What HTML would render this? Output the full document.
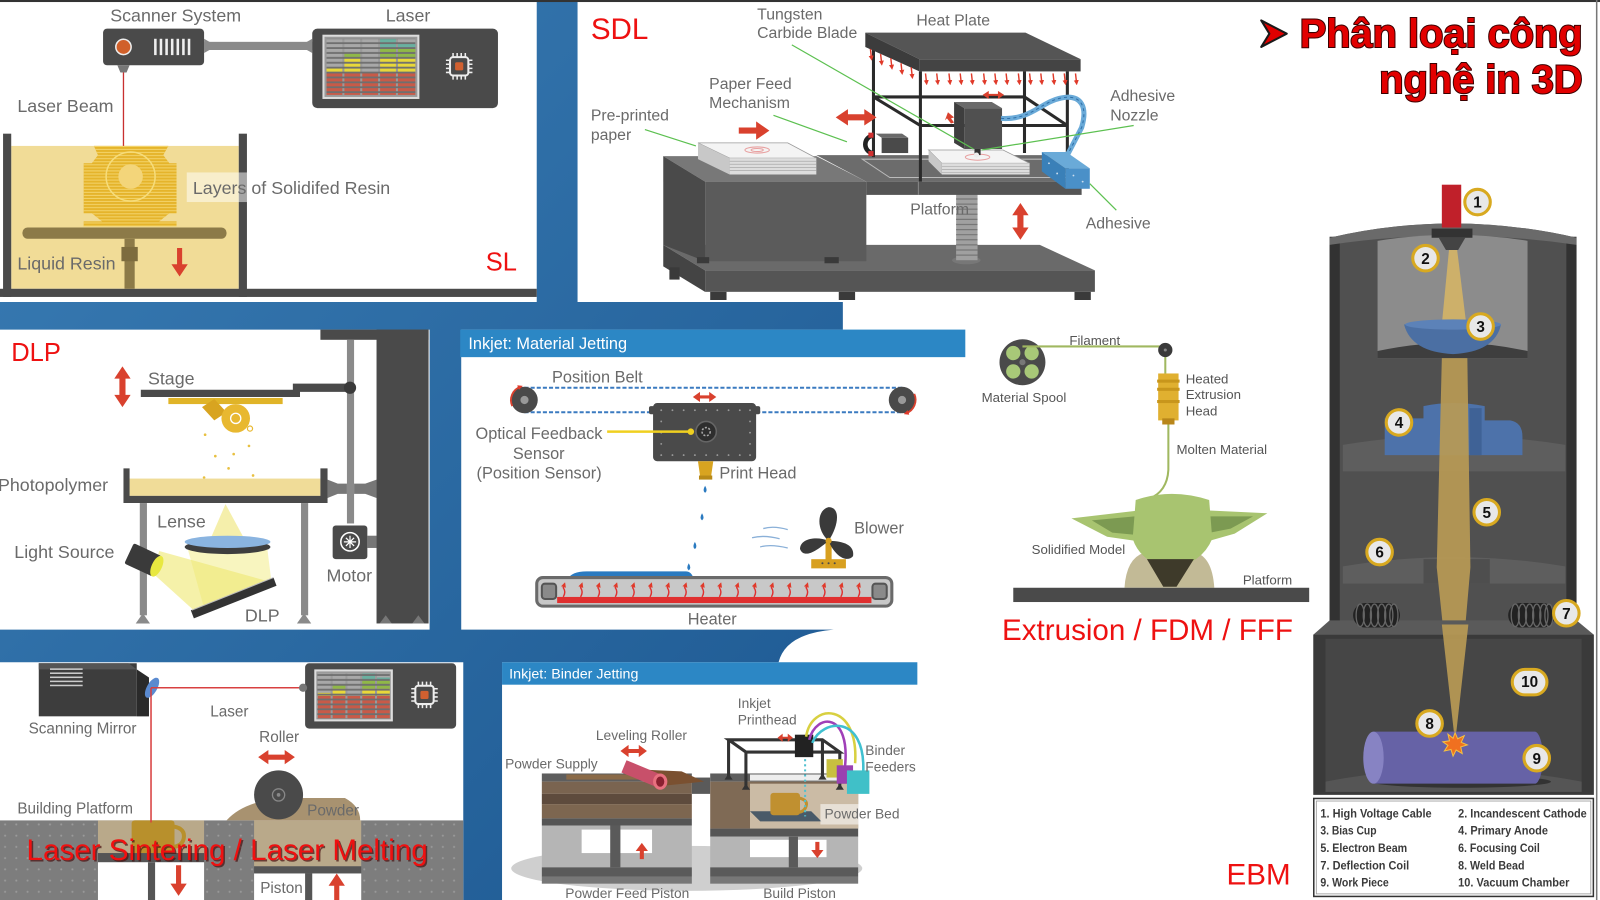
<!DOCTYPE html>
<html><head><meta charset="utf-8"><style>
html,body{margin:0;padding:0;background:#fff;overflow:hidden;}
svg{display:block;}
text{font-family:"Liberation Sans",Arial,sans-serif;}
</style></head><body>
<svg width="1600" height="900" viewBox="0 0 1568 882" preserveAspectRatio="none" xmlns="http://www.w3.org/2000/svg">
<defs>
<linearGradient id="bg" x1="0" y1="0" x2="1" y2="1"><stop offset="0" stop-color="#3a7db5"/><stop offset="1" stop-color="#1d5891"/></linearGradient>
<pattern id="scan" width="6" height="4.8" patternUnits="userSpaceOnUse"><rect y="3" width="6" height="1.8" fill="#6f6f6f"/></pattern>
<pattern id="layers" width="6" height="3" patternUnits="userSpaceOnUse"><rect y="2" width="6" height="1" fill="#f3d36a"/></pattern>
<pattern id="dots" width="11" height="11" patternUnits="userSpaceOnUse"><circle cx="5" cy="5" r="1" fill="#9a9a9a"/></pattern>
<marker id="ah" markerWidth="5" markerHeight="5" refX="2.5" refY="2.5" orient="auto" markerUnits="userSpaceOnUse"><path d="M0,0 L5,2.5 L0,5 Z" fill="#e03a2a"/></marker>
</defs>
<rect width="1568" height="882" fill="#fff"/>
<!-- blue background -->
<path d="M0,296 L526,296 L526,2 L566,2 L566,296 L826,296 L826,323 L452,323 L452,617 L817,617 Q770,621 763,649 L492,649 L492,882 L454,882 L454,649 L0,649 L0,617 L421,617 L421,323 L0,323 Z" fill="url(#bg)"/>
<rect x="0" y="0" width="1568" height="2" fill="#333"/>
<rect x="1564" y="0" width="1.5" height="882" fill="#777"/>

<!-- ===== SL ===== -->
<rect x="11" y="143" width="223" height="140" fill="#f1dc97"/>
<rect x="3" y="131" width="8" height="160" fill="#4a4a4a"/>
<rect x="234" y="131" width="8" height="160" fill="#4a4a4a"/>
<rect x="0" y="283" width="526" height="8" fill="#4a4a4a"/>
<polygon points="92,143 165,143 160,152 166,160 173,160 173,209 166,209 156,217 173,217 173,222 82,222 82,217 100,217 90,209 82,209 82,160 90,160 96,152" fill="#e5b42b"/>
<polygon points="92,143 165,143 160,152 166,160 173,160 173,209 166,209 156,217 173,217 173,222 82,222 82,217 100,217 90,209 82,209 82,160 90,160 96,152" fill="url(#layers)"/>
<circle cx="128" cy="173" r="24" fill="none" stroke="#f6dc7a" stroke-width="1.5"/>
<circle cx="128" cy="173" r="12" fill="#f3d57a"/>
<rect x="22" y="223" width="200" height="11" rx="5" fill="#8c7a48"/>
<rect x="122" y="234" width="10" height="49" fill="#8c7a48"/>
<rect x="119" y="242" width="16" height="14" fill="#7d6c3e"/>
<polygon points="173.5,243 178.5,243 178.5,259 184,259 176,271 168,259 173.5,259" fill="#d9412e"/>
<rect x="183" y="169" width="211" height="29" fill="#fff" opacity="0.5"/>
<rect x="101" y="28" width="99" height="36" rx="4" fill="#4a4a4a"/>
<circle cx="121" cy="46" r="7.5" fill="#d0602a" stroke="#eee" stroke-width="1.5"/>
<g fill="#eee"><rect x="151" y="38" width="2.5" height="16"/><rect x="156.5" y="38" width="2.5" height="16"/><rect x="162" y="38" width="2.5" height="16"/><rect x="167.5" y="38" width="2.5" height="16"/><rect x="173" y="38" width="2.5" height="16"/><rect x="178.5" y="38" width="2.5" height="16"/><rect x="184" y="38" width="2.5" height="16"/></g>
<polygon points="115,64 127,64 124,71 118,71" fill="#777"/>
<rect x="200" y="41" width="106" height="8" fill="#8a8a8a"/>
<polygon points="200,38 207,42 207,48 200,52" fill="#8a8a8a"/>
<polygon points="306,38 299,42 299,48 306,52" fill="#8a8a8a"/>
<line x1="121" y1="71" x2="121" y2="143" stroke="#c83030" stroke-width="1.3"/>
<rect x="306" y="28" width="182" height="78" rx="5" fill="#4a4a4a"/>
<rect x="317" y="35" width="93" height="61" fill="#9a9a9a" stroke="#ddd" stroke-width="2"/>
<g>
<rect x="320" y="38" width="15.5" height="29" fill="#a8a8a8"/><rect x="320" y="67" width="15.5" height="4" fill="#e8d83a"/><rect x="320" y="71" width="15.5" height="22" fill="#c85a48"/>
<rect x="337.5" y="38" width="15.5" height="14" fill="#a8a8a8"/><rect x="337.5" y="52" width="15.5" height="5" fill="#90b848"/><rect x="337.5" y="57" width="15.5" height="14" fill="#e8d83a"/><rect x="337.5" y="71" width="15.5" height="22" fill="#c85a48"/>
<rect x="355" y="38" width="15.5" height="33" fill="#a8a8a8"/><rect x="355" y="71" width="15.5" height="22" fill="#c85a48"/>
<rect x="372.5" y="38" width="15.5" height="9" fill="#6ab0a0"/><rect x="372.5" y="47" width="15.5" height="10" fill="#90b848"/><rect x="372.5" y="57" width="15.5" height="14" fill="#e8d83a"/><rect x="372.5" y="71" width="15.5" height="22" fill="#c85a48"/>
<rect x="390" y="38" width="17" height="5" fill="#a8a8a8"/><rect x="390" y="43" width="17" height="4" fill="#6ab0a0"/><rect x="390" y="47" width="17" height="10" fill="#90b848"/><rect x="390" y="57" width="17" height="14" fill="#e8d83a"/><rect x="390" y="71" width="17" height="22" fill="#c85a48"/>
<rect x="320" y="38" width="87" height="55" fill="url(#scan)"/>
</g>
<rect x="441" y="56" width="18" height="18" rx="3" fill="none" stroke="#eee" stroke-width="2"/>
<rect x="446" y="61" width="8" height="8" rx="1.5" fill="#d06030"/>
<path d="M444,52v4M448,52v4M452,52v4M456,52v4M444,74v4M448,74v4M452,74v4M456,74v4M437,59h4M437,63h4M437,67h4M437,71h4M459,59h4M459,63h4M459,67h4M459,71h4" stroke="#eee" stroke-width="1.5"/>
<g font-size="17.5" fill="#6a6a6a">
<text x="108" y="21">Scanner System</text>
<text x="378" y="21">Laser</text>
<text x="17" y="110">Laser Beam</text>
<text x="189" y="190">Layers of Solidifed Resin</text>
<text x="17" y="264">Liquid Resin</text>
</g>
<text x="476" y="265" font-size="25" fill="#ee1111">SL</text>

<!-- ===== SDL ===== -->
<polygon points="650,240 1019,240 1073,265 691,265" fill="#6a6a6a"/>
<rect x="691" y="265" width="382" height="21" fill="#555"/>
<polygon points="650,240 691,265 691,286 650,261" fill="#444"/>
<g fill="#3a3a3a"><rect x="696" y="286" width="16" height="8"/><rect x="822" y="286" width="16" height="8"/><rect x="1053" y="286" width="16" height="8"/><rect x="656" y="262" width="10" height="12"/></g>
<ellipse cx="947" cy="255" rx="14" ry="4" fill="#777"/>
<rect x="937" y="190" width="21" height="65" fill="#a0a0a0"/>
<g stroke="#777" stroke-width="1.2"><path d="M937,195h21M937,200h21M937,205h21M937,210h21M937,215h21M937,220h21M937,225h21M937,230h21M937,235h21M937,240h21M937,245h21M937,250h21"/></g>
<polygon points="650,153 800,153 849,178 691,178" fill="#787878"/>
<rect x="691" y="178" width="158" height="78" fill="#5b5b5b"/>
<polygon points="650,153 691,178 691,256 650,240" fill="#4a4a4a"/>
<rect x="683" y="252" width="12" height="6" fill="#3a3a3a"/><rect x="808" y="252" width="14" height="6" fill="#3a3a3a"/>
<polygon points="800,152 1032,152 1060,178 849,178" fill="#6c6c6c"/>
<polygon points="845,156 1026,156 1048,174 872,174" fill="none" stroke="#bbb" stroke-width="1"/>
<rect x="849" y="178" width="211" height="13" fill="#555"/>
<line x1="900" y1="178" x2="900" y2="191" stroke="#888" stroke-width="1"/>
<polygon points="684,140 772,140 800,155 715,155" fill="#f4f4f4" stroke="#999" stroke-width="0.8"/>
<rect x="715" y="155" width="85" height="16" fill="#ddd"/>
<path d="M715,158h85M715,161h85M715,164h85M715,167h85" stroke="#aaa" stroke-width="0.7"/>
<polygon points="684,140 715,155 715,171 684,156" fill="#c8c8c8"/>
<ellipse cx="742" cy="147" rx="12" ry="3" fill="none" stroke="#e8a0a0"/>
<ellipse cx="742" cy="147" rx="6" ry="1.5" fill="none" stroke="#e8a0a0"/>
<polygon points="910,147 983,147 1009,160 923,160" fill="#f4f4f4" stroke="#999" stroke-width="0.8"/>
<rect x="923" y="160" width="86" height="11" fill="#ddd"/>
<path d="M923,163h86M923,166h86M923,169h86" stroke="#aaa" stroke-width="0.7"/>
<polygon points="910,147 923,160 923,171 910,158" fill="#c8c8c8"/>
<ellipse cx="958" cy="154" rx="12" ry="3" fill="none" stroke="#e8a0a0"/>
<g stroke="#2a2a2a" stroke-width="3" fill="none">
<path d="M856,46V154M902,70V178M1004,70V150M1046,70V178M856,95H1004M902,123H1046M856,95L902,123M1004,95L1046,123"/>
</g>
<polygon points="848,32 1005,32 1059,58 901,58" fill="#555"/>
<rect x="901" y="58" width="158" height="12" fill="#444"/>
<polygon points="848,32 901,58 901,70 848,46" fill="#3c3c3c"/>
<g stroke="#e03a2a" stroke-width="1.4" marker-end="url(#ah)">
<line x1="853" y1="48" x2="854" y2="57"/><line x1="863" y1="53" x2="864" y2="62"/><line x1="873" y1="57" x2="874" y2="66"/><line x1="883" y1="62" x2="884" y2="71"/><line x1="893" y1="66" x2="894" y2="75"/>
<line x1="907" y1="72" x2="908" y2="81"/><line x1="918" y1="72" x2="919" y2="81"/><line x1="930" y1="72" x2="931" y2="81"/><line x1="941" y1="72" x2="942" y2="81"/><line x1="952" y1="72" x2="953" y2="81"/><line x1="964" y1="72" x2="965" y2="81"/><line x1="975" y1="72" x2="976" y2="81"/><line x1="986" y1="72" x2="987" y2="81"/><line x1="998" y1="72" x2="999" y2="81"/><line x1="1009" y1="72" x2="1010" y2="81"/><line x1="1020" y1="72" x2="1021" y2="81"/><line x1="1032" y1="72" x2="1033" y2="81"/><line x1="1043" y1="72" x2="1044" y2="81"/><line x1="1054" y1="72" x2="1055" y2="81"/>
</g>
<polygon points="935,100 972,100 982,106 945,106" fill="#6a6a6a"/>
<rect x="945" y="106" width="37" height="40" fill="#505050"/>
<polygon points="935,100 945,106 945,146 935,140" fill="#3e3e3e"/>
<rect x="955" y="146" width="6" height="6" fill="#333"/>
<circle cx="957" cy="152" r="2.5" fill="#eee"/>
<path d="M981,116 C1010,118 1020,100 1040,96 C1060,92 1066,105 1060,125 L1046,152" stroke="#6aaad8" stroke-width="5" fill="none"/>
<path d="M981,116 C1010,118 1020,100 1040,96 C1060,92 1066,105 1060,125 L1046,152" stroke="#2f6fa8" stroke-width="1" fill="none" stroke-dasharray="3 3"/>
<polygon points="1021,149 1045,149 1068,165 1044,165" fill="#6aaad8"/>
<rect x="1044" y="165" width="24" height="20" fill="#4a90c8"/>
<polygon points="1021,149 1044,165 1044,185 1021,168" fill="#3a80b8"/>
<g fill="#cde"><circle cx="1028" cy="160" r="0.9"/><circle cx="1036" cy="170" r="0.9"/><circle cx="1052" cy="172" r="0.9"/><circle cx="1061" cy="178" r="0.9"/></g>
<path d="M856,133 A8,8.5 0 1 0 856,150" stroke="#222" stroke-width="4.5" fill="none"/>
<rect x="851" y="130" width="5" height="5" fill="#d03030"/><rect x="851" y="148" width="5" height="5" fill="#d03030"/>
<polygon points="858,131 884,131 890,135 864,135" fill="#6a6a6a"/>
<rect x="864" y="135" width="26" height="15" fill="#4a4a4a"/>
<polygon points="724,125 741,125 741,119 754,128 741,137 741,131 724,131" fill="#d9412e"/>
<polygon points="819,115 831,107 831,112 847,112 847,107 859,115 847,123 847,118 831,118 831,123" fill="#d9412e"/>
<polygon points="963,93 969,89 969,92 978,92 978,89 984,93 978,97 978,94 969,94 969,97" fill="#d9412e"/>
<polygon points="929,110 935,115 932,116 935,120 932,121 928,116 926,118" fill="#d9412e"/>
<polygon points="1000,199 1008,211 1003,211 1003,223 1008,223 1000,235 992,223 997,223 997,211 992,211" fill="#d9412e"/>
<g stroke="#5cc050" stroke-width="1.2">
<line x1="632" y1="127" x2="682" y2="143"/>
<line x1="758" y1="113" x2="830" y2="139"/>
<line x1="776" y1="44" x2="954" y2="146"/>
<line x1="1111" y1="123" x2="962" y2="147"/>
<line x1="1094" y1="206" x2="1068" y2="180"/>
</g>
<g font-size="15.5" fill="#6a6a6a">
<text x="742" y="19">Tungsten</text>
<text x="742" y="37">Carbide Blade</text>
<text x="898" y="25">Heat Plate</text>
<text x="695" y="87">Paper Feed</text>
<text x="695" y="106">Mechanism</text>
<text x="579" y="118">Pre-printed</text>
<text x="579" y="137">paper</text>
<text x="1088" y="99">Adhesive</text>
<text x="1088" y="118">Nozzle</text>
<text x="1064" y="224">Adhesive</text>
<text x="892" y="210">Platform</text>
</g>
<text x="579" y="38" font-size="29" fill="#ee1111">SDL</text>

<!-- ===== Title ===== -->
<polygon points="1236,20 1261,33 1236,46 1244,33" fill="#e00000" stroke="#1a1a1a" stroke-width="2" stroke-linejoin="round"/>
<g font-size="39" font-weight="bold" fill="#e20000" stroke="#3a0000" stroke-width="2" paint-order="stroke" text-anchor="end">
<text x="1551" y="46">Phân loại công</text>
<text x="1551" y="91">nghệ in 3D</text>
</g>

<!-- ===== DLP ===== -->
<rect x="314" y="323" width="106" height="10" fill="#4a4a4a"/>
<rect x="369" y="323" width="51" height="288" fill="#4a4a4a"/>
<polygon points="372,611 378,603 384,611" fill="#777"/><polygon points="404,611 410,603 416,611" fill="#777"/>
<rect x="340" y="333" width="7" height="180" fill="#8a8a8a"/>
<polygon points="321,470 331,474 340,474 340,484 331,484 321,488" fill="#777"/>
<polygon points="347,474 358,474 369,470 369,488 358,484 347,484" fill="#777"/>
<polygon points="138,382 287,382 287,376 343,376 343,384 294,384 294,389 138,389" fill="#4a4a4a"/>
<circle cx="343" cy="380" r="6" fill="#3a3a3a"/>
<rect x="165" y="390" width="112" height="6" fill="#e0b428"/>
<polygon points="198,399 210,391 222,404 210,412" fill="#d8a420"/>
<circle cx="231" cy="410" r="14" fill="#e8b830"/>
<circle cx="231" cy="410" r="5" fill="none" stroke="#fff" stroke-width="1.3"/>
<circle cx="245" cy="420" r="2.5" fill="none" stroke="#e8b830" stroke-width="1.2"/>
<g fill="#e8c040"><circle cx="201" cy="426" r="1.3"/><circle cx="211" cy="447" r="1.3"/><circle cx="229" cy="445" r="1.3"/><circle cx="244" cy="437" r="1.3"/><circle cx="224" cy="459" r="1.3"/><circle cx="200" cy="468" r="1.3"/><circle cx="248" cy="466" r="1.3"/></g>
<polygon points="120,359 128,371 123,371 123,387 128,387 120,399 112,387 117,387 117,371 112,371" fill="#d9412e"/>
<rect x="127" y="469" width="187" height="17" fill="#f0dc98"/>
<path d="M121,459 L127,459 L127,486 L314,486 L314,459 L321,459 L321,493 L121,493 Z" fill="#4a4a4a"/>
<rect x="137" y="493" width="7" height="110" fill="#8a8a8a"/>
<rect x="295" y="493" width="7" height="110" fill="#8a8a8a"/>
<polygon points="133,611 140,601 147,611" fill="#8a8a8a"/><polygon points="291,611 298,601 305,611" fill="#8a8a8a"/>
<polygon points="221,494 205,531 241,531" fill="#f3ec9c" opacity="0.85"/>
<polygon points="156,540 150,562 192,600 264,570" fill="#eee870" opacity="0.6"/>
<polygon points="200,596 266,570 262,538 184,538" fill="#f0e870" opacity="0.45"/>
<ellipse cx="223" cy="536" rx="42" ry="7" fill="#3e3e3e"/>
<ellipse cx="223" cy="531" rx="42" ry="6" fill="#8ab4e0"/>
<g transform="rotate(25 141 549)"><rect x="125" y="538" width="30" height="22" rx="2" fill="#3a3a3a"/><ellipse cx="155" cy="549" rx="5" ry="11" fill="#e8e840"/></g>
<polygon points="187,598 268,566 271,574 190,606" fill="#333"/>
<line x1="188" y1="598" x2="268" y2="566" stroke="#bbb" stroke-width="1"/>
<rect x="360" y="525" width="9" height="12" fill="#777"/>
<rect x="326" y="515" width="34" height="33" rx="3" fill="#4a4a4a"/>
<circle cx="343" cy="531" r="9" fill="none" stroke="#fff" stroke-width="1.5"/>
<path d="M343,525v12M337,531h12M339,527l8,8M347,527l-8,8" stroke="#fff" stroke-width="1.2"/>
<g font-size="17.5" fill="#6a6a6a">
<text x="145" y="377">Stage</text>
<text x="-2" y="481">Photopolymer</text>
<text x="154" y="517">Lense</text>
<text x="14" y="547">Light Source</text>
<text x="320" y="570">Motor</text>
<text x="240" y="609">DLP</text>
</g>
<text x="11" y="354" font-size="25" fill="#ee1111">DLP</text>

<!-- ===== Inkjet: Material Jetting ===== -->
<rect x="451" y="323" width="495" height="27" fill="#2c87c5"/>
<text x="459" y="342" font-size="16" fill="#fff">Inkjet: Material Jetting</text>
<g stroke="#3a7ac0" stroke-width="2" stroke-dasharray="4 2"><line x1="514" y1="380" x2="884" y2="380"/><line x1="514" y1="404" x2="640" y2="404"/><line x1="741" y1="404" x2="884" y2="404"/></g>
<circle cx="514" cy="392" r="13" fill="#4a4a4a"/><circle cx="514" cy="392" r="4" fill="#999"/>
<circle cx="884" cy="392" r="13" fill="#4a4a4a"/><circle cx="884" cy="392" r="4" fill="#999"/>
<path d="M502,398 A14,14 0 0 1 510,379" stroke="#d9412e" stroke-width="1.8" fill="none" marker-end="url(#ah)"/>
<path d="M896,386 A14,14 0 0 1 888,405" stroke="#d9412e" stroke-width="1.8" fill="none" marker-end="url(#ah)"/>
<rect x="640" y="395" width="101" height="57" rx="4" fill="#4a4a4a"/>
<rect x="636" y="398" width="6" height="8" rx="2" fill="#4a4a4a"/><rect x="739" y="398" width="6" height="8" rx="2" fill="#4a4a4a"/>
<g fill="#999"><circle cx="648" cy="402" r="0.9"/><circle cx="659" cy="402" r="0.9"/><circle cx="670" cy="402" r="0.9"/><circle cx="681" cy="402" r="0.9"/><circle cx="692" cy="402" r="0.9"/><circle cx="703" cy="402" r="0.9"/><circle cx="714" cy="402" r="0.9"/><circle cx="725" cy="402" r="0.9"/><circle cx="735" cy="402" r="0.9"/>
<circle cx="648" cy="446" r="0.9"/><circle cx="659" cy="446" r="0.9"/><circle cx="670" cy="446" r="0.9"/><circle cx="681" cy="446" r="0.9"/><circle cx="692" cy="446" r="0.9"/><circle cx="703" cy="446" r="0.9"/><circle cx="714" cy="446" r="0.9"/><circle cx="725" cy="446" r="0.9"/><circle cx="735" cy="446" r="0.9"/>
<circle cx="648" cy="413" r="0.9"/><circle cx="648" cy="424" r="0.9"/><circle cx="648" cy="435" r="0.9"/><circle cx="735" cy="413" r="0.9"/><circle cx="735" cy="424" r="0.9"/><circle cx="735" cy="435" r="0.9"/></g>
<circle cx="692" cy="423" r="10" fill="#2e2e2e" stroke="#666" stroke-width="1.5"/>
<circle cx="692" cy="423" r="4" fill="none" stroke="#aaa" stroke-width="1.5" stroke-dasharray="2 1.5"/>
<polygon points="679,389 686,384 686,387.5 695,387.5 695,384 702,389 695,394 695,390.5 686,390.5 686,394" fill="#d9412e"/>
<line x1="595" y1="423" x2="677" y2="423" stroke="#f0d020" stroke-width="2.5"/>
<circle cx="677" cy="423" r="3.2" fill="#f0d020"/>
<polygon points="684,452 699,452 697,466 686,466" fill="#d8a420"/>
<rect x="685" y="466" width="13" height="4" fill="#b88a18"/>
<g fill="#2a7ac0"><path d="M691,476 q3,5 0,7 q-3,-2 0,-7z"/><path d="M688,503 q3,5 0,7 q-3,-2 0,-7z"/><path d="M681,531 q3,5 0,7 q-3,-2 0,-7z"/><path d="M675,552 q3,5 0,7 q-3,-2 0,-7z"/></g>
<path d="M556,568 Q560,560 575,560 L672,560 Q678,560 680,568 Z" fill="#2a7ac0"/>
<rect x="526" y="566" width="348" height="28" rx="6" fill="#c8c8c8" stroke="#6a6a6a" stroke-width="3"/>
<rect x="546" y="585" width="308" height="6" fill="#e03030"/>
<rect x="531" y="572" width="14" height="15" rx="3" fill="#8a8a8a" stroke="#555" stroke-width="2"/>
<rect x="855" y="572" width="14" height="15" rx="3" fill="#8a8a8a" stroke="#555" stroke-width="2"/>
<g stroke="#e03030" stroke-width="1.4" fill="none" marker-end="url(#ah)">
<path d="M552,585 q3,-5 0,-9 l1,-3"/><path d="M569,585 q3,-5 0,-9 l1,-3"/><path d="M586,585 q3,-5 0,-9 l1,-3"/><path d="M603,585 q3,-5 0,-9 l1,-3"/><path d="M620,585 q3,-5 0,-9 l1,-3"/><path d="M637,585 q3,-5 0,-9 l1,-3"/><path d="M654,585 q3,-5 0,-9 l1,-3"/><path d="M671,585 q3,-5 0,-9 l1,-3"/><path d="M688,585 q3,-5 0,-9 l1,-3"/><path d="M705,585 q3,-5 0,-9 l1,-3"/><path d="M722,585 q3,-5 0,-9 l1,-3"/><path d="M739,585 q3,-5 0,-9 l1,-3"/><path d="M756,585 q3,-5 0,-9 l1,-3"/><path d="M773,585 q3,-5 0,-9 l1,-3"/><path d="M790,585 q3,-5 0,-9 l1,-3"/><path d="M807,585 q3,-5 0,-9 l1,-3"/><path d="M824,585 q3,-5 0,-9 l1,-3"/><path d="M841,585 q3,-5 0,-9 l1,-3"/>
</g>
<rect x="795" y="548" width="34" height="9" fill="#d8a020"/>
<g fill="#4a4a4a"><circle cx="806" cy="552" r="1"/><circle cx="812" cy="552" r="1"/><circle cx="818" cy="552" r="1"/></g>
<rect x="809" y="530" width="6" height="20" fill="#d8a020"/>
<g fill="#3a3a3a">
<path d="M812,530 C800,520 800,500 812,497 C824,497 822,515 812,530Z"/>
<path d="M812,530 C800,540 788,548 784,538 C784,528 800,525 812,530Z"/>
<path d="M812,530 C822,530 838,532 836,545 C830,552 818,545 812,530Z"/>
</g>
<circle cx="812" cy="530" r="3" fill="#d8a020"/>
<g stroke="#8ab0d8" stroke-width="1.3" fill="none"><path d="M748,518 q10,-3 24,1"/><path d="M737,527 q12,-3 27,1"/><path d="M745,536 q10,-3 27,1"/></g>
<g font-size="16" fill="#6a6a6a">
<text x="541" y="375">Position Belt</text>
<text x="466" y="430">Optical Feedback</text>
<text x="528" y="450" text-anchor="middle">Sensor</text>
<text x="467" y="469">(Position Sensor)</text>
<text x="705" y="469">Print Head</text>
<text x="837" y="523">Blower</text>
<text x="698" y="612" text-anchor="middle">Heater</text>
</g>

<!-- ===== FDM ===== -->
<circle cx="1002" cy="355" r="22.5" fill="#4a4a4a"/>
<g fill="#a8c878"><circle cx="993" cy="346" r="7"/><circle cx="1011" cy="346" r="7"/><circle cx="993" cy="364" r="7"/><circle cx="1011" cy="364" r="7"/></g>
<circle cx="1002" cy="355" r="3" fill="#777"/>
<line x1="1002" y1="339.5" x2="1142" y2="339.5" stroke="#a0b860" stroke-width="2"/>
<line x1="1142" y1="345" x2="1142" y2="366" stroke="#a0b860" stroke-width="2"/>
<circle cx="1142" cy="343" r="7" fill="#3a3a3a"/><circle cx="1142" cy="343" r="1.5" fill="#888"/>
<rect x="1135" y="366" width="20" height="46" fill="#e0b030"/>
<g fill="#c8961c"><rect x="1134" y="372" width="22" height="3"/><rect x="1134" y="380" width="22" height="3"/><rect x="1134" y="392" width="22" height="3"/></g>
<rect x="1139" y="410" width="12" height="6" fill="#b8861a"/>
<path d="M1145,416 L1145,455 Q1146,478 1130,487" stroke="#a0b860" stroke-width="2" fill="none"/>
<polygon points="1118,500 1050,508 1085,526 1113,530" fill="#a8c470"/>
<polygon points="1112,506 1070,510 1090,522 1112,524" fill="#7c9a52"/>
<polygon points="1180,500 1242,503 1210,523 1185,530" fill="#a8c470"/>
<polygon points="1186,506 1228,506 1206,518 1186,522" fill="#7c9a52"/>
<path d="M1102,576 Q1104,545 1124,541 L1170,541 Q1188,545 1190,576 Z" fill="#c2ba96"/>
<path d="M1113,490 Q1148,478 1185,490 L1188,528 Q1178,552 1148,557 Q1118,552 1110,528 Z" fill="#a8c470"/>
<polygon points="1124,548 1170,548 1153,575 1140,575" fill="#3e3a2a"/>
<rect x="993" y="576" width="290" height="14" fill="#4a4a4a"/>
<g font-size="13" fill="#555">
<text x="1048" y="338">Filament</text>
<text x="962" y="394">Material Spool</text>
<text x="1162" y="376">Heated</text>
<text x="1162" y="391">Extrusion</text>
<text x="1162" y="407">Head</text>
<text x="1153" y="445">Molten Material</text>
<text x="1011" y="543">Solidified Model</text>
<text x="1218" y="573">Platform</text>
</g>
<text x="982" y="627" font-size="29" fill="#ee1111">Extrusion / FDM / FFF</text>

<!-- ===== EBM ===== -->
<path d="M1303,233 Q1424,205 1545,233 L1545,612 L1303,612 Z" fill="#505050"/>
<rect x="1303" y="232" width="10" height="380" fill="#323232"/>
<rect x="1535" y="232" width="10" height="380" fill="#323232"/>
<path d="M1303,233 Q1424,205 1545,233 L1545,240 Q1424,222 1303,240 Z" fill="#6a6a6a"/>
<path d="M1350,236 Q1424,224 1497,236 L1497,351 L1350,351 Z" fill="#8c8c8c"/>
<path d="M1350,351 L1350,344 Q1424,328 1497,344 L1497,351 Z" fill="#3e3e3e"/>
<path d="M1316,436 Q1424,418 1534,436 L1534,462 L1316,462 Z" fill="#5e5e5e"/>
<path d="M1316,555 Q1424,537 1534,555 L1534,572 L1316,572 Z" fill="#5e5e5e"/>
<rect x="1395" y="548" width="65" height="24" fill="#4e4e4e"/>
<rect x="1413" y="181" width="19" height="42" fill="#c0202a"/>
<rect x="1403" y="224" width="40" height="9" fill="#333"/>
<polygon points="1410,233 1436,233 1429,245 1417,245" fill="#444"/>
<polygon points="1420,245 1428,245 1437,318 1413,318" fill="#cdb06a"/>
<path d="M1376,318 Q1424,310 1471,318 Q1465,345 1424,347 Q1383,345 1376,318 Z" fill="#4b6fa3"/>
<ellipse cx="1424" cy="318" rx="47" ry="5" fill="#5c82b8"/>
<path d="M1357,446 L1357,410 L1395,410 L1395,398 Q1424,392 1455,398 L1455,412 L1480,412 Q1492,414 1492,428 L1492,446 Z" fill="#4d72aa"/>
<rect x="1440" y="400" width="12" height="46" fill="#3f6296"/>
<polygon points="1413,351 1438,351 1441,556 1426,728 1408,556" fill="#b89a55" opacity="0.92"/>
<path d="M1303,612 L1545,612 L1562,622 L1562,779 L1287,779 L1287,622 Z" fill="#3a3a3a"/>
<path d="M1287,622 L1303,608 L1545,608 L1562,622 Z" fill="#5a5a5a"/>
<rect x="1299" y="626" width="251" height="150" fill="#464646"/>
<path d="M1299,766 Q1424,742 1550,766 L1550,776 L1299,776 Z" fill="#555"/>
<polygon points="1413,612 1439,612 1426,728" fill="#b89a55" opacity="0.92"/>
<g>
<rect x="1326" y="591" width="46" height="24" rx="12" fill="#222"/>
<g fill="none" stroke="#666" stroke-width="1.3"><ellipse cx="1333" cy="603" rx="4" ry="11"/><ellipse cx="1340" cy="603" rx="4" ry="11"/><ellipse cx="1347" cy="603" rx="4" ry="11"/><ellipse cx="1354" cy="603" rx="4" ry="11"/><ellipse cx="1361" cy="603" rx="4" ry="11"/><ellipse cx="1366" cy="603" rx="4" ry="11"/></g>
<rect x="1478" y="591" width="46" height="24" rx="12" fill="#222"/>
<g fill="none" stroke="#666" stroke-width="1.3"><ellipse cx="1485" cy="603" rx="4" ry="11"/><ellipse cx="1492" cy="603" rx="4" ry="11"/><ellipse cx="1499" cy="603" rx="4" ry="11"/><ellipse cx="1506" cy="603" rx="4" ry="11"/><ellipse cx="1513" cy="603" rx="4" ry="11"/><ellipse cx="1518" cy="603" rx="4" ry="11"/></g>
</g>
<ellipse cx="1432" cy="766" rx="88" ry="6" fill="#333"/>
<path d="M1346,717 L1504,717 A8,25.5 0 0 1 1504,768 L1346,768 Z" fill="#6662a6"/>
<ellipse cx="1346" cy="742.5" rx="10" ry="25.5" fill="#8783c3"/>
<polygon points="1426,718 1428.5,724 1435,721 1432,727.5 1438,730 1431.5,732 1433,738.5 1427,735 1424,741 1422,734.5 1415.5,736 1419,730.5 1414,727 1420.5,726 1419,719.5 1424,723.5" fill="#f07020" stroke="#f5c040" stroke-width="1"/>
<g fill="#e8e8e8" stroke="#d8a920" stroke-width="3">
<circle cx="1448" cy="198" r="12.5"/><circle cx="1397" cy="253" r="12.5"/><circle cx="1451" cy="320" r="12.5"/><circle cx="1371" cy="414" r="12.5"/><circle cx="1457" cy="502" r="12.5"/><circle cx="1352" cy="541" r="12.5"/><circle cx="1535" cy="601" r="12.5"/><circle cx="1401" cy="709" r="12.5"/><circle cx="1506" cy="743" r="12.5"/><rect x="1482" y="656" width="34" height="25" rx="12.5"/>
</g>
<g font-size="15" font-weight="bold" fill="#111" text-anchor="middle">
<text x="1448" y="203.5">1</text><text x="1397" y="258.5">2</text><text x="1451" y="325.5">3</text><text x="1371" y="419.5">4</text><text x="1457" y="507.5">5</text><text x="1352" y="546.5">6</text><text x="1535" y="606.5">7</text><text x="1401" y="714.5">8</text><text x="1506" y="748.5">9</text><text x="1499" y="673.5">10</text>
</g>
<rect x="1287.5" y="782.5" width="274" height="96" fill="#fff" stroke="#333" stroke-width="1.5"/>
<rect x="1290" y="785" width="269" height="91" fill="none" stroke="#999" stroke-width="0.8"/>
<g font-size="11.5" font-weight="bold" fill="#3a3a3a">
<text x="1294" y="801" textLength="109" lengthAdjust="spacingAndGlyphs">1. High Voltage Cable</text>
<text x="1294" y="818" textLength="55" lengthAdjust="spacingAndGlyphs">3. Bias Cup</text>
<text x="1294" y="835" textLength="85" lengthAdjust="spacingAndGlyphs">5. Electron Beam</text>
<text x="1294" y="852" textLength="87" lengthAdjust="spacingAndGlyphs">7. Deflection Coil</text>
<text x="1294" y="869" textLength="67" lengthAdjust="spacingAndGlyphs">9. Work Piece</text>
<text x="1429" y="801" textLength="126" lengthAdjust="spacingAndGlyphs">2. Incandescent Cathode</text>
<text x="1429" y="818" textLength="88" lengthAdjust="spacingAndGlyphs">4. Primary Anode</text>
<text x="1429" y="835" textLength="80" lengthAdjust="spacingAndGlyphs">6. Focusing Coil</text>
<text x="1429" y="852" textLength="65" lengthAdjust="spacingAndGlyphs">8. Weld Bead</text>
<text x="1429" y="869" textLength="109" lengthAdjust="spacingAndGlyphs">10. Vacuum Chamber</text>
</g>
<text x="1202" y="867" font-size="29" fill="#ee1111">EBM</text>

<!-- ===== Laser Sintering ===== -->
<rect x="0" y="804" width="454" height="78" fill="#7d7d7d"/>
<rect x="0" y="804" width="454" height="78" fill="url(#dots)"/>
<rect x="96" y="804" width="104" height="32" fill="#b9a98a"/>
<rect x="96" y="836" width="104" height="9" fill="#555"/>
<rect x="96" y="845" width="104" height="37" fill="#fff"/>
<rect x="145" y="845" width="7" height="37" fill="#555"/>
<rect x="249" y="804" width="105" height="45" fill="#b9a98a"/>
<rect x="249" y="849" width="105" height="7" fill="#555"/>
<rect x="249" y="856" width="105" height="26" fill="#fff"/>
<rect x="299" y="856" width="7" height="26" fill="#555"/>
<path d="M222,804 Q238,786 275,782 L338,782 Q353,790 353,804 Z" fill="#a89270"/>
<rect x="129" y="804" width="42" height="32" rx="3" fill="#b8902c"/>
<path d="M170,810 Q182,812 180,822 Q178,830 168,830" stroke="#b8902c" stroke-width="4" fill="none"/>
<circle cx="273" cy="779" r="24" fill="#4a4a4a"/>
<circle cx="273" cy="779" r="6" fill="none" stroke="#888" stroke-width="1.3"/>
<circle cx="273" cy="779" r="1.8" fill="#888"/>
<polygon points="253,742 263,735 263,739.5 279,739.5 279,735 289,742 279,749 279,744.5 263,744.5 263,749" fill="#d9412e"/>
<polygon points="172.5,848 177.5,848 177.5,866 183,866 175,878 167,866 172.5,866" fill="#d9412e"/>
<polygon points="330,856 338,868 332.5,868 332.5,882 327.5,882 327.5,868 322,868" fill="#d9412e"/>
<rect x="38" y="650" width="96" height="52" fill="#3d3d3d"/>
<polygon points="38,650 126,650 134,656 38,656" fill="#555"/>
<polygon points="134,656 146,664 146,702 134,702" fill="#2a2a2a"/>
<g fill="#ccc"><rect x="49" y="655" width="32" height="1.5"/><rect x="49" y="659" width="32" height="1.5"/><rect x="49" y="663" width="32" height="1.5"/><rect x="49" y="667" width="32" height="1.5"/><rect x="49" y="671" width="32" height="1.5"/></g>
<ellipse cx="149" cy="674" rx="5" ry="11" transform="rotate(30 149 674)" fill="#5a8ad0"/>
<path d="M148,674 L294,674 M148,674 L148,806" stroke="#d84040" stroke-width="1.5" fill="none"/>
<rect x="299" y="650" width="148" height="64" rx="4" fill="#4a4a4a"/>
<circle cx="297" cy="674" r="4" fill="#777"/>
<rect x="309" y="657" width="75" height="49" fill="#9a9a9a" stroke="#ddd" stroke-width="2"/>
<g>
<rect x="311.5" y="660" width="12.5" height="19" fill="#a8a8a8"/><rect x="311.5" y="679" width="12.5" height="3" fill="#e8d83a"/><rect x="311.5" y="682" width="12.5" height="22" fill="#c85a48"/>
<rect x="326" y="660" width="12.5" height="11" fill="#a8a8a8"/><rect x="326" y="671" width="12.5" height="4" fill="#90b848"/><rect x="326" y="675" width="12.5" height="7" fill="#e8d83a"/><rect x="326" y="682" width="12.5" height="22" fill="#c85a48"/>
<rect x="340.5" y="660" width="12.5" height="22" fill="#a8a8a8"/><rect x="340.5" y="682" width="12.5" height="22" fill="#c85a48"/>
<rect x="355" y="660" width="12.5" height="6" fill="#6ab0a0"/><rect x="355" y="666" width="12.5" height="9" fill="#90b848"/><rect x="355" y="675" width="12.5" height="7" fill="#e8d83a"/><rect x="355" y="682" width="12.5" height="22" fill="#c85a48"/>
<rect x="369.5" y="660" width="12.5" height="4" fill="#a8a8a8"/><rect x="369.5" y="664" width="12.5" height="3" fill="#6ab0a0"/><rect x="369.5" y="667" width="12.5" height="8" fill="#90b848"/><rect x="369.5" y="675" width="12.5" height="7" fill="#e8d83a"/><rect x="369.5" y="682" width="12.5" height="22" fill="#c85a48"/>
<rect x="311" y="660" width="71" height="44" fill="url(#scan)"/>
</g>
<rect x="407" y="672" width="18" height="18" rx="3" fill="none" stroke="#eee" stroke-width="2"/>
<rect x="412" y="677" width="8" height="8" rx="1.5" fill="#d06030"/>
<path d="M410,668v4M414,668v4M418,668v4M422,668v4M410,690v4M414,690v4M418,690v4M422,690v4M403,675h4M403,679h4M403,683h4M403,687h4M425,675h4M425,679h4M425,683h4M425,687h4" stroke="#eee" stroke-width="1.5"/>
<g font-size="15" fill="#6a6a6a">
<text x="28" y="719">Scanning Mirror</text>
<text x="206" y="702">Laser</text>
<text x="254" y="727">Roller</text>
<text x="17" y="797">Building Platform</text>
<text x="301" y="799">Powder</text>
<text x="255" y="875">Piston</text>
</g>
<text x="27.5" y="844.5" font-size="29" fill="#4a1010" opacity="0.7">Laser Sintering / Laser Melting</text>
<text x="26" y="843" font-size="29" fill="#f01010">Laser Sintering / Laser Melting</text>

<!-- ===== Binder Jetting ===== -->
<rect x="492" y="649" width="407" height="22" fill="#2c87c5"/>
<text x="499" y="665" font-size="14" fill="#fff">Inkjet: Binder Jetting</text>
<ellipse cx="673" cy="851" rx="172" ry="22" fill="#cfcfcf"/>
<rect x="531" y="758" width="147" height="8" fill="#5e5e5e"/>
<rect x="555" y="759" width="100" height="5" fill="#8a6a48"/>
<rect x="531" y="766" width="147" height="12" fill="#7a6450"/>
<rect x="531" y="778" width="147" height="10" fill="#5e4b3d"/>
<rect x="531" y="788" width="147" height="14" fill="#7d6650"/>
<rect x="531" y="802" width="147" height="7" fill="#555"/>
<rect x="531" y="809" width="147" height="41" fill="#b5b5b5"/>
<rect x="570" y="813" width="69" height="23" fill="#fff"/>
<rect x="598" y="809" width="10" height="41" fill="#5a5a5a"/>
<rect x="531" y="850" width="147" height="9" fill="#5a5a5a"/>
<rect x="531" y="859" width="147" height="7" fill="#777"/>
<rect x="678" y="762" width="18" height="16" fill="#5a5a5a"/>
<rect x="696" y="758" width="145" height="8" fill="#5e5e5e"/>
<rect x="735" y="759" width="100" height="6" fill="#eee"/>
<rect x="696" y="766" width="145" height="46" fill="#7f6a55"/>
<rect x="735" y="768" width="106" height="44" fill="#cbbba5"/>
<polygon points="735,795 795,795 805,805 745,805" fill="#4a5a68"/>
<rect x="755" y="777" width="29" height="22" rx="3" fill="#c09030"/>
<path d="M783,782 Q792,784 790,790 Q788,796 782,796" stroke="#c09030" stroke-width="3" fill="none"/>
<rect x="696" y="812" width="145" height="8" fill="#555"/>
<rect x="696" y="820" width="145" height="30" fill="#b5b5b5"/>
<rect x="735" y="823" width="75" height="17" fill="#fff"/>
<rect x="773" y="820" width="9" height="30" fill="#5a5a5a"/>
<rect x="696" y="850" width="145" height="9" fill="#5a5a5a"/>
<rect x="696" y="859" width="145" height="7" fill="#777"/>
<rect x="804" y="788" width="72" height="20" fill="#fff" opacity="0.55"/>
<polygon points="625,754 668,756 690,766 650,770" fill="#7a5030"/>
<path d="M614,745 L650,760 L645,772 L609,757 Z" fill="#c8506a"/>
<ellipse cx="647" cy="766" rx="7" ry="8" fill="#e8707f"/>
<ellipse cx="647" cy="766" rx="4" ry="5" fill="#8a2030"/>
<g stroke="#333" stroke-width="3" fill="none"><path d="M714,725 L806,725 L823,737 L731,737 Z M714,725 V761 M731,737 V771 M823,737 V771 M806,725 V761"/></g>
<g fill="#333"><polygon points="710,764 714,758 718,764"/><polygon points="727,774 731,768 735,774"/><polygon points="819,774 823,768 827,774"/><polygon points="802,764 806,758 810,764"/></g>
<rect x="779" y="720" width="18" height="22" fill="#222"/>
<path d="M790,722 C795,688 842,688 838,748" stroke="#d8d040" stroke-width="2.5" fill="none"/>
<path d="M793,725 C800,698 834,698 828,752" stroke="#a040b8" stroke-width="2.5" fill="none"/>
<path d="M796,728 C806,704 848,700 846,756" stroke="#40c0d0" stroke-width="2.5" fill="none"/>
<rect x="810" y="744" width="16" height="18" fill="#c8c040"/>
<rect x="820" y="750" width="16" height="18" fill="#9a40b0"/>
<rect x="830" y="755" width="22" height="23" fill="#40c0c8"/>
<line x1="789" y1="744" x2="789" y2="800" stroke="#50c0d0" stroke-width="2" stroke-dasharray="2 3"/>
<polygon points="608,736 616,730 616,734 626,734 626,730 634,736 626,742 626,738 616,738 616,742" fill="#d9412e"/>
<polygon points="762,723 767,719 767,722 772,722 772,719 777,723 772,727 772,724 767,724 767,727" fill="#d9412e"/>
<polygon points="629,826 635,834 631,834 631,842 627,842 627,834 623,834" fill="#d9412e"/>
<polygon points="799,825 803,825 803,833 807,833 801,841 795,833 799,833" fill="#d9412e"/>
<g font-size="13.5" fill="#6a6a6a">
<text x="723" y="694">Inkjet</text>
<text x="723" y="710">Printhead</text>
<text x="584" y="725">Leveling Roller</text>
<text x="495" y="753">Powder Supply</text>
<text x="848" y="740">Binder</text>
<text x="848" y="756">Feeders</text>
<text x="808" y="802">Powder Bed</text>
<text x="554" y="880">Powder Feed Piston</text>
<text x="748" y="880">Build Piston</text>
</g>
</svg>
</body></html>
